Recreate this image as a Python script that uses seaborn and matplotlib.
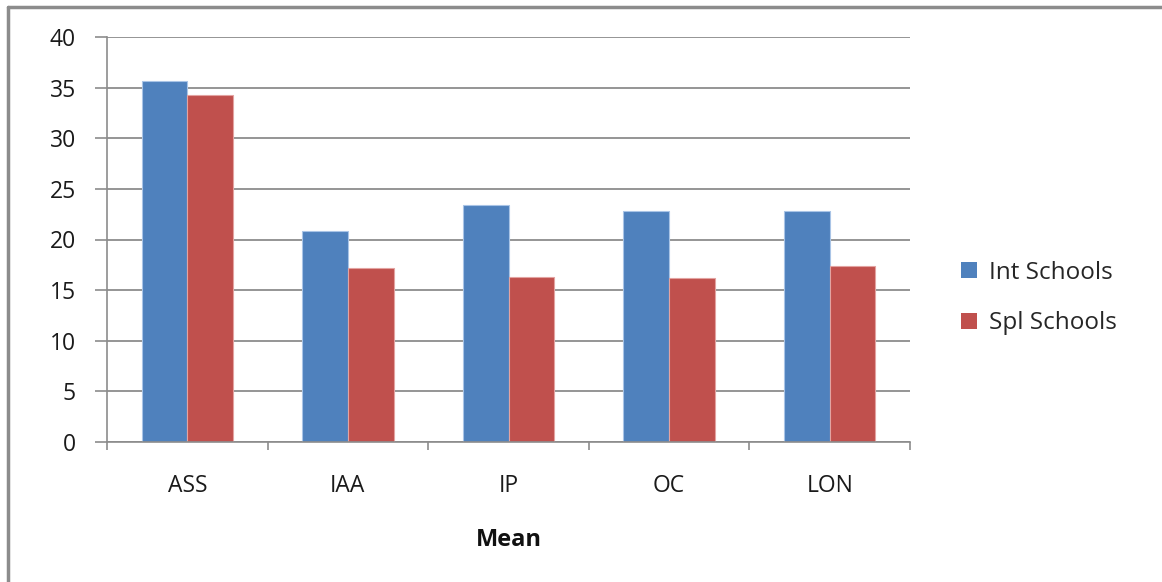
import matplotlib
matplotlib.use("Agg")
import matplotlib.pyplot as plt
import seaborn as sns
import pandas as pd
from matplotlib.lines import Line2D
from matplotlib.patches import Patch

# Mean scores by dimension for the two school types
categories = ["ASS", "IAA", "IP", "OC", "LON"]
int_schools = [35.7, 20.8, 23.4, 22.8, 22.8]
spl_schools = [34.3, 17.2, 16.3, 16.2, 17.4]
series_names = ["Int Schools", "Spl Schools"]
y_ticks = [0, 5, 10, 15, 20, 25, 30, 35, 40]

df = pd.DataFrame({
    "category": categories * 2,
    "value": int_schools + spl_schools,
    "series": [series_names[0]] * len(categories) + [series_names[1]] * len(categories),
})

sns.set_theme(style="white")
plt.rcParams["font.family"] = ["Open Sans", "DejaVu Sans"]

colors = ["#4F81BD", "#C0504D"]
edge_colors = ["#A9C4E6", "#E3A3A1"]
grid_col = "#8C8C8C"
text_col = "#1A1A1A"

fig = plt.figure(figsize=(11.62, 5.82), dpi=100)
ax = fig.add_axes([107 / 1162, 1 - 442 / 582, (910 - 107) / 1162, (442 - 37) / 582])

sns.barplot(data=df, x="category", y="value", hue="series", order=categories,
            hue_order=series_names, palette=colors, width=0.57, gap=0,
            saturation=1, legend=False, ax=ax)

# thin light outlines on the bars
for container, ec in zip(ax.containers, edge_colors):
    for bar in container:
        bar.set_edgecolor(ec)
        bar.set_linewidth(0.8)

ax.set_ylim(0, 40)
ax.set_xlim(-0.5, len(categories) - 0.5)
ax.set_yticks(y_ticks)
ax.set_yticklabels([str(t) for t in y_ticks], fontsize=16.5, color=text_col)
ax.yaxis.grid(True, color=grid_col, linewidth=1.3)
ax.set_axisbelow(True)

# category boundary ticks on the x axis, labels centred on categories
ax.set_xticks([i - 0.5 for i in range(len(categories) + 1)])
ax.set_xticklabels([])
ax.set_xticks(range(len(categories)), minor=True)
ax.set_xticklabels(categories, minor=True, fontsize=16.5, color=text_col)
ax.tick_params(axis="x", which="major", length=6, width=1.2, color=grid_col, direction="out", bottom=True)
ax.tick_params(axis="x", which="minor", length=0, pad=23)
ax.tick_params(axis="y", length=8.5, width=1.2, color=grid_col, direction="out", left=True, pad=14)

for side in ["top", "right"]:
    ax.spines[side].set_visible(False)
for side in ["left", "bottom"]:
    ax.spines[side].set_color(grid_col)
    ax.spines[side].set_linewidth(1.2)

ax.set_xlabel("Mean", fontsize=17, fontweight="bold", labelpad=22, color="#111111")
ax.set_ylabel("")

handles = [Patch(facecolor=c, edgecolor="none") for c in colors]
fig.legend(handles, series_names, loc="center left", bbox_to_anchor=(939 / 1162, 1 - 298 / 582),
           frameon=False, handlelength=0.65, handleheight=0.65,
           handletextpad=0.5, labelspacing=1.1, prop={"family": ["Open Sans"], "size": 17.5})

# outer chart frame
fig.add_artist(Line2D([8 / 1162, 8 / 1162], [0, 1 - 7 / 582], transform=fig.transFigure,
                      color="#8C8C8C", linewidth=2.5))
fig.add_artist(Line2D([8 / 1162, 1], [1 - 7 / 582, 1 - 7 / 582], transform=fig.transFigure,
                      color="#8C8C8C", linewidth=2.5))

fig.savefig("out.png", dpi=100)
